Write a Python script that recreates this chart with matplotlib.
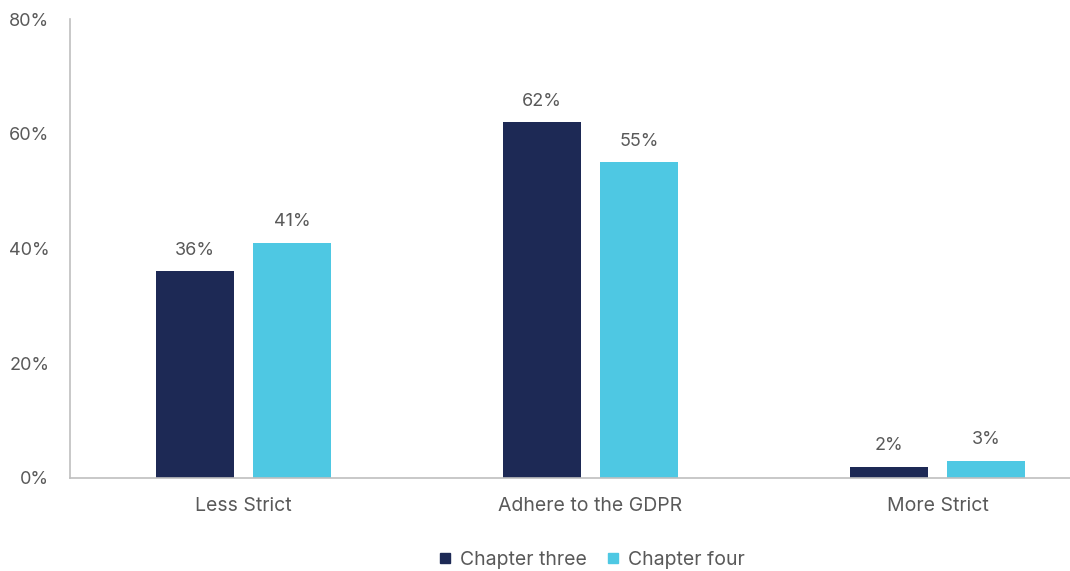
import matplotlib.pyplot as plt
import numpy as np

categories = ["Less Strict", "Adhere to the GDPR", "More Strict"]
chapter_three = [36, 62, 2]
chapter_four = [41, 55, 3]
series_names = ["Chapter three", "Chapter four"]
y_ticks = [0, 20, 40, 60, 80]

navy = "#1D2955"
cyan = "#4EC8E3"
text_grey = "#595959"
spine_grey = "#BFBFBF"

plt.rcParams['font.family'] = ['Inter', 'DejaVu Sans']

fig = plt.figure(figsize=(10.7, 5.71), dpi=100)
ax = fig.add_axes([70 / 1070, 93 / 571, 1000 / 1070, 459 / 571])

x = np.arange(len(categories))
width = 0.225
offset = 0.141

bars1 = ax.bar(x - offset, chapter_three, width, color=navy, label=series_names[0])
bars2 = ax.bar(x + offset, chapter_four, width, color=cyan, label=series_names[1])

for bars in (bars1, bars2):
    for b in bars:
        ax.annotate(f"{b.get_height():.0f}%",
                    (b.get_x() + b.get_width() / 2, b.get_height()),
                    xytext=(0, 9), textcoords="offset points",
                    ha="center", va="bottom", fontsize=13, color=text_grey)

ax.set_xlim(-0.5, -0.5 + 1000 / 347)
ax.set_ylim(0, 80)
ax.set_yticks(y_ticks)
ax.set_yticklabels([f"{v}%" for v in y_ticks])
ax.set_xticks(x)
ax.set_xticklabels(categories)
ax.tick_params(axis="both", length=0, labelcolor=text_grey)
ax.tick_params(axis="y", pad=15, labelsize=13)
ax.tick_params(axis="x", pad=14, labelsize=14)

for side in ("top", "right"):
    ax.spines[side].set_visible(False)
for side in ("left", "bottom"):
    ax.spines[side].set_color(spine_grey)
    ax.spines[side].set_linewidth(1.2)

handles = [plt.Line2D([], [], marker="s", linestyle="none", markersize=7.5, color=c)
           for c in (navy, cyan)]
fig.legend(handles, series_names, loc="center", bbox_to_anchor=(590 / 1070, 1 - 560 / 571),
           ncol=2, frameon=False, fontsize=14, labelcolor=text_grey,
           handletextpad=0.3, columnspacing=0.8, handlelength=1.0)

fig.savefig("out.png", dpi=100)
